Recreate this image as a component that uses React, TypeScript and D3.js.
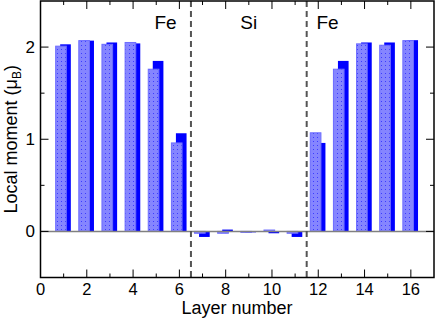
import * as d3 from "d3";

const layers = [1, 2, 3, 4, 5, 6, 7, 8, 9, 10, 11, 12, 13, 14, 15, 16];
const momentA = [2.01, 2.07, 2.03, 2.05, 1.76, 0.96, -0.02, -0.02, -0.01, 0.015, -0.02, 1.07, 1.76, 2.035, 2.02, 2.07];
const momentB = [2.03, 2.07, 2.05, 2.04, 1.85, 1.065, -0.06, 0.02, -0.01, -0.02, -0.06, 0.96, 1.85, 2.05, 2.05, 2.075];
const xTicks = [0, 2, 4, 6, 8, 10, 12, 14, 16];
const yTicks = [0, 1, 2];
const interfaces = [6.5, 11.5];
const regionLabels = [
  { x: 5.4, text: "Fe" },
  { x: 9.0, text: "Si" },
  { x: 12.4, text: "Fe" },
];

const W = 436;
const H = 319;
const left = 40.5;
const right = 434;
const top = 1;
const bottom = 277.5;

const font = "'Liberation Sans', Arial, Helvetica, sans-serif";

export default function App() {
  const x = d3.scaleLinear().domain([0, 17]).range([left, right]);
  const y = d3.scaleLinear().domain([-0.5, 2.5]).range([bottom, top]);
  const bw = x(0.46) - x(0);

  const xMinor = d3.range(1, 17, 2);
  const yMinor = [0.5, 1.5];

  const barRect = (v: number, cx: number) => {
    const y0 = y(0);
    const y1 = y(v);
    return { x: x(cx) - bw / 2, y: Math.min(y0, y1), w: bw, h: Math.abs(y1 - y0) };
  };

  return (
    <svg
      width={W}
      height={H}
      style={{ position: "absolute", left: 0, top: 0, background: "#fff" }}
      fontFamily={font}
    >
      <defs>
        <pattern id="dots" width="4" height="4" patternUnits="userSpaceOnUse">
          <rect width="4" height="4" fill="#8585ff" />
          <rect x="1" y="1" width="1" height="1" fill="#3c3cff" />
        </pattern>
      </defs>

      {/* solid bars behind */}
      {layers.map((l, i) => {
        const r = barRect(momentB[i], l + 0.08);
        return <rect key={"b" + l} x={r.x} y={r.y} width={r.w} height={r.h} fill="#0000ff" />;
      })}
      {/* patterned bars in front */}
      {layers.map((l, i) => {
        const r = barRect(momentA[i], l - 0.115);
        return (
          <rect
            key={"a" + l}
            x={r.x}
            y={r.y}
            width={r.w}
            height={r.h}
            fill="url(#dots)"
            stroke="#6c6cff"
            strokeWidth={1}
          />
        );
      })}

      {/* zero line */}
      <line x1={left} x2={right} y1={y(0)} y2={y(0)} stroke="#808080" strokeWidth={1.5} />

      {/* interfaces */}
      {interfaces.map((v) => (
        <line
          key={v}
          x1={x(v)}
          x2={x(v)}
          y1={top}
          y2={bottom}
          stroke="#555"
          strokeWidth={2}
          strokeDasharray="6,4"
        />
      ))}

      {regionLabels.map((d, i) => (
        <text key={i} x={x(d.x)} y={29} fontSize={19} textAnchor="middle">
          {d.text}
        </text>
      ))}

      {/* frame */}
      <rect x={left} y={top} width={right - left} height={bottom - top} fill="none" stroke="#000" strokeWidth={1.5} />

      {/* x ticks */}
      {xTicks.map((t) => (
        <g key={"xt" + t}>
          <line x1={x(t)} x2={x(t)} y1={bottom} y2={bottom - 8} stroke="#000" strokeWidth={1} />
          <line x1={x(t)} x2={x(t)} y1={top} y2={top + 8} stroke="#000" strokeWidth={1} />
          <text x={x(t)} y={295} fontSize={16.5} textAnchor="middle">
            {t}
          </text>
        </g>
      ))}
      {xMinor.map((t) => (
        <g key={"xm" + t}>
          <line x1={x(t)} x2={x(t)} y1={bottom} y2={bottom - 4} stroke="#000" strokeWidth={1} />
          <line x1={x(t)} x2={x(t)} y1={top} y2={top + 4} stroke="#000" strokeWidth={1} />
        </g>
      ))}

      {/* y ticks */}
      {yTicks.map((t) => (
        <g key={"yt" + t}>
          <line x1={left} x2={left + 8} y1={y(t)} y2={y(t)} stroke="#000" strokeWidth={1} />
          <line x1={right} x2={right - 8} y1={y(t)} y2={y(t)} stroke="#000" strokeWidth={1} />
          <text x={35} y={y(t) + 6} fontSize={17} textAnchor="end">
            {t}
          </text>
        </g>
      ))}
      {yMinor.map((t) => (
        <g key={"ym" + t}>
          <line x1={left} x2={left + 4} y1={y(t)} y2={y(t)} stroke="#000" strokeWidth={1} />
          <line x1={right} x2={right - 4} y1={y(t)} y2={y(t)} stroke="#000" strokeWidth={1} />
        </g>
      ))}

      {/* axis titles */}
      <text x={237} y={314} fontSize={18} textAnchor="middle">
        Layer number
      </text>
      <text transform={`translate(17,${(top + bottom) / 2}) rotate(-90)`} fontSize={18} textAnchor="middle">
        Local moment (μ
        <tspan fontSize={12} dy={4}>B</tspan>
        <tspan dy={-4}>)</tspan>
      </text>
    </svg>
  );
}
